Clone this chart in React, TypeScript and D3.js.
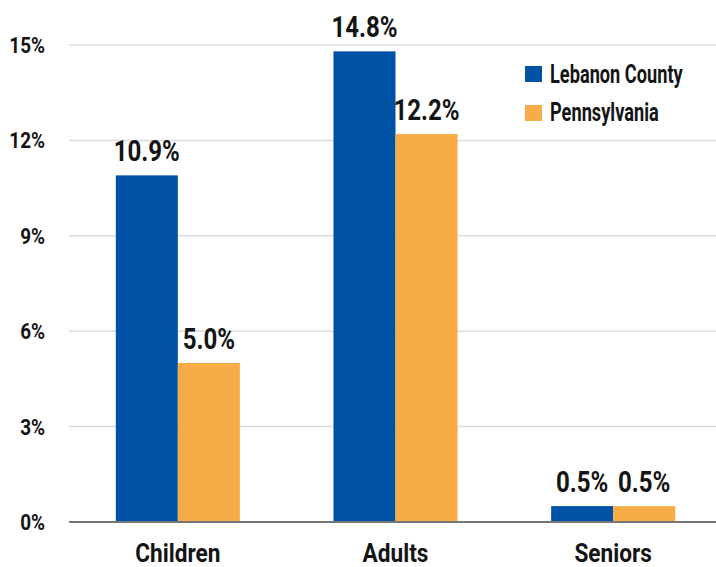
import React from "react";
import * as d3 from "d3";

const categories = ["Children", "Adults", "Seniors"];
const seriesNames = ["Lebanon County", "Pennsylvania"];
const lebanon = [10.9, 14.8, 0.5];
const pennsylvania = [5.0, 12.2, 0.5];
const yTicks = [0, 3, 6, 9, 12, 15];
const colors = ["#0052A5", "#F8AC47"];

const W = 716, H = 567;
const left = 69, right = 722, top = 45, bottom = 522;
const FONT = "'Roboto', 'Noto Sans', sans-serif";

function T({ x, y, anchor = "start", size, sx = 0.86, children, fill = "#141414" }: any) {
  return (
    <text transform={`translate(${x},${y}) scale(${sx},1)`} textAnchor={anchor}
      fontFamily={FONT} fontWeight={700} fontSize={size} fill={fill}>{children}</text>
  );
}

export default function App() {
  const x = d3.scaleBand().domain(categories).range([left, right]).paddingInner(0.43).paddingOuter(0.215);
  const xs = d3.scaleBand().domain(seriesNames).range([0, x.bandwidth()]);
  const y = d3.scaleLinear().domain([0, 15]).range([bottom, top]);
  const series = [lebanon, pennsylvania];
  return (
    <svg width={W} height={H} style={{ position: "absolute", left: 0, top: 0 }}>
      <rect width={W} height={H} fill="#fff" />
      {yTicks.map(t => (
        <g key={t}>
          {t > 0 && <line x1={left} x2={W} y1={y(t)} y2={y(t)} stroke="#dcdcdc" strokeWidth={1.5} />}
          <T x={45} y={y(t) + 8} anchor="end" size={22} sx={0.86}>{t}%</T>
        </g>
      ))}
      {categories.map((c, i) => (
        <g key={c}>
          {series.map((s, j) => {
            const bx = (x(c) as number) + (xs(seriesNames[j]) as number);
            const bw = xs.bandwidth();
            return (
              <g key={j}>
                <rect x={bx} y={y(s[i])} width={bw} height={bottom - y(s[i])} fill={colors[j]} />
                <T x={bx + bw / 2} y={y(s[i]) - 14} anchor="middle" size={29} sx={0.83}>{s[i].toFixed(1)}%</T>
              </g>
            );
          })}
          <T x={(x(c) as number) + x.bandwidth() / 2} y={562} anchor="middle" size={26} sx={0.87}>{c}</T>
        </g>
      ))}
      <line x1={left} x2={W} y1={bottom} y2={bottom} stroke="#777" strokeWidth={2} />
      {seriesNames.map((n, j) => (
        <g key={n}>
          <rect x={525} y={66 + j * 39} width={17} height={16} fill={colors[j]} />
          <T x={550} y={83 + j * 38} size={26} sx={0.7}>{n}</T>
        </g>
      ))}
    </svg>
  );
}
